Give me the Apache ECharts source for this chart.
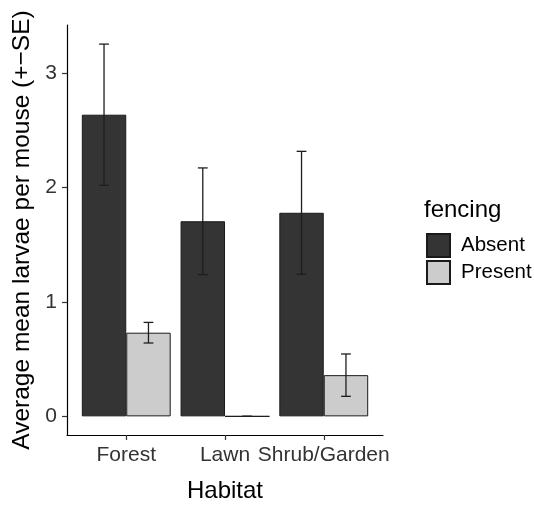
<!DOCTYPE html>
<html>
<head>
<meta charset="utf-8">
<script src="https://cdn.jsdelivr.net/npm/echarts@6/dist/echarts.min.js"></script>
<style>html,body{margin:0;padding:0;background:#fff;}#c{width:534px;height:508px;}</style>
</head>
<body>
<div id="c"></div>
<script>
var habitats = ['Forest', 'Lawn', 'Shrub/Garden'];
var fencingLevels = ['Absent', 'Present'];
var meanAbsent = [2.636, 1.705, 1.779];
var seAbsent = [0.617, 0.466, 0.537];
var meanPresent = [0.731, 0.0, 0.36];
var sePresent = [0.09, 0.0, 0.185];
var yTicks = [0, 1, 2, 3];
var xPositions = [1, 2, 3];

var FONT = 'Liberation Sans, Arial, Helvetica, sans-serif';
var chart = echarts.init(document.getElementById('c'));

function barData(means) {
  return means.map(function (m, i) { return [xPositions[i], m]; });
}

function errSeries(name, means, ses, side) {
  var data = means.map(function (m, i) { return [xPositions[i], m - ses[i], m + ses[i]]; });
  return {
    type: 'custom',
    name: name + ' SE',
    z: 10,
    silent: true,
    renderItem: function (params, api) {
      var xi = api.value(0);
      var lo = api.coord([xi, api.value(1)]);
      var hi = api.coord([xi, api.value(2)]);
      var band = api.size([1, 0])[0];
      var x = lo[0] + side * band * 0.9 / 4;
      var cap = band * 0.9 / 2 * 0.11;
      var st = { stroke: '#1e1e1e', lineWidth: 1.3 };
      return {
        type: 'group',
        children: [
          { type: 'line', shape: { x1: x, y1: lo[1], x2: x, y2: hi[1] }, style: st },
          { type: 'line', shape: { x1: x - cap, y1: lo[1], x2: x + cap, y2: lo[1] }, style: st },
          { type: 'line', shape: { x1: x - cap, y1: hi[1], x2: x + cap, y2: hi[1] }, style: st }
        ]
      };
    },
    encode: { x: 0, y: [1, 2] },
    data: data
  };
}

chart.setOption({
  animation: false,
  backgroundColor: '#ffffff',
  textStyle: { fontFamily: FONT },
  grid: { left: 67, right: 151, top: 25, bottom: 65, containLabel: false },
  title: {
    text: 'fencing', left: 419, top: 193,
    textStyle: { fontFamily: FONT, fontSize: 24, fontWeight: 'normal', color: '#000' }
  },
  legend: {
    data: fencingLevels,
    orient: 'vertical',
    left: 421, top: 228,
    itemWidth: 23, itemHeight: 23, itemGap: 2,
    icon: 'rect',
    textStyle: { fontFamily: FONT, fontSize: 20.5, color: '#000', padding: [0, 0, 0, 6] },
    selectedMode: false
  },
  xAxis: {
    type: 'value',
    min: 0.4, max: 3.6,
    name: 'Habitat',
    nameLocation: 'middle',
    nameGap: 44,
    nameTextStyle: { fontFamily: FONT, fontSize: 24, color: '#000' },
    axisLine: { show: true, onZero: false, lineStyle: { color: '#000', width: 1.2 } },
    axisTick: { show: true, length: 5, customValues: xPositions, lineStyle: { color: '#333', width: 1.2 } },
    axisLabel: {
      customValues: xPositions, fontFamily: FONT, fontSize: 21, color: '#333', margin: 10,
      formatter: function (v) { return habitats[Math.round(v) - 1] || ''; }
    },
    splitLine: { show: false }
  },
  yAxis: {
    type: 'value',
    min: -0.163, max: 3.42,
    name: 'Average mean larvae per mouse (+\u2212SE)',
    nameLocation: 'middle',
    nameGap: 32,
    nameTextStyle: { fontFamily: FONT, fontSize: 24.5, color: '#000' },
    axisLine: { show: true, onZero: false, lineStyle: { color: '#000', width: 1.2 } },
    axisTick: { show: true, length: 5, customValues: yTicks, lineStyle: { color: '#333', width: 1.2 } },
    axisLabel: { customValues: yTicks, fontFamily: FONT, fontSize: 21, color: '#333', margin: 10 },
    splitLine: { show: false }
  },
  series: [
    {
      type: 'bar', name: 'Absent', data: barData(meanAbsent),
      barGap: '0%', barCategoryGap: '10%',
      itemStyle: { color: '#333433', borderColor: '#1a1a1a', borderWidth: 1 }
    },
    {
      type: 'bar', name: 'Present', data: barData(meanPresent),
      barGap: '0%', barCategoryGap: '10%',
      itemStyle: { color: '#cccccc', borderColor: '#1a1a1a', borderWidth: 1 }
    },
    errSeries('Absent', meanAbsent, seAbsent, -1),
    errSeries('Present', meanPresent, sePresent, 1)
  ]
});
</script>
</body>
</html>
